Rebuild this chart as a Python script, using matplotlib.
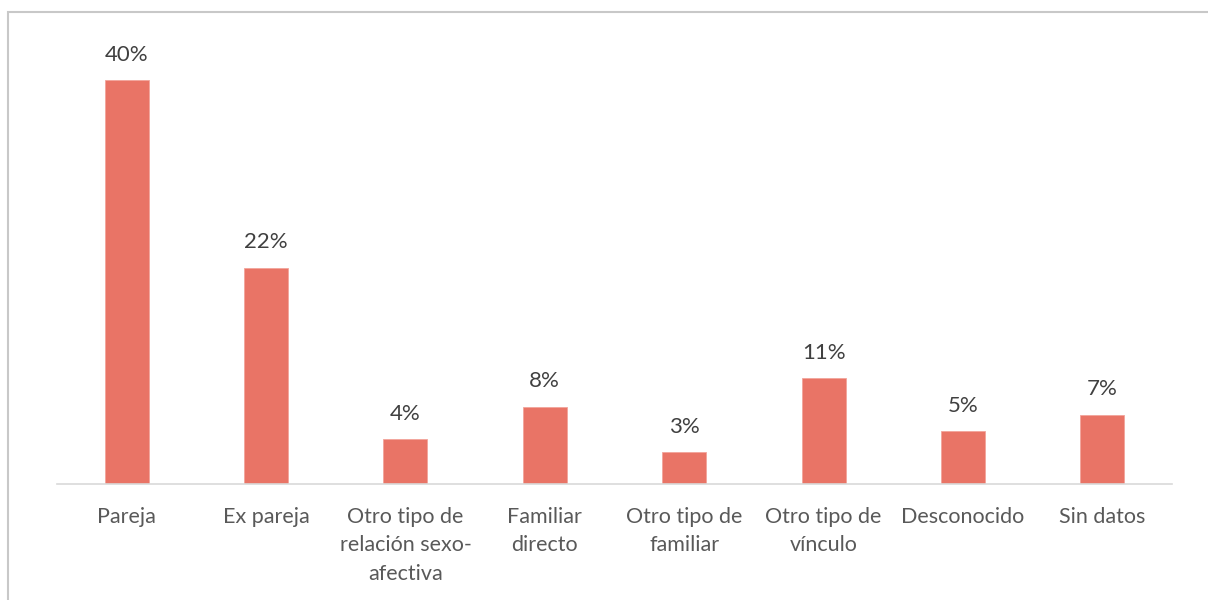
import matplotlib
matplotlib.use("Agg")
import matplotlib.pyplot as plt
from matplotlib.patches import Rectangle

categories = ["Pareja", "Ex pareja", "Otro tipo de\nrelación sexo-\nafectiva",
              "Familiar\ndirecto", "Otro tipo de\nfamiliar", "Otro tipo de\nvínculo",
              "Desconocido", "Sin datos"]
values = [40, 21.4, 4.45, 7.65, 3.15, 10.45, 5.25, 6.85]
value_labels = ["40%", "22%", "4%", "8%", "3%", "11%", "5%", "7%"]

plt.rcParams['font.family'] = ['Lato', 'DejaVu Sans']

W, H = 1208, 600
fig = plt.figure(figsize=(W / 100, H / 100), dpi=100)
fig.patch.set_facecolor('white')

left, right, base, top = 57, 1172, 484, 20
ax = fig.add_axes([left / W, (H - base) / H, (right - left) / W, (base - top) / H])
x = list(range(len(categories)))
ax.bar(x, values, width=0.316, color='#E97466', edgecolor='#F2A49B', linewidth=0.6, zorder=2)
ax.set_xlim(-0.5, len(categories) - 0.5)
ax.set_ylim(0, (base - top) / 10.1)

for xi, v, lab in zip(x, values, value_labels):
    ax.annotate(lab, (xi, v), xytext=(0, 18.3), textcoords='offset points',
                ha='center', va='center', fontsize=16, color='#404040')

ax.set_xticks(x)
ax.set_xticklabels(categories, fontsize=15.5, color='#595959', linespacing=1.52)
ax.tick_params(axis='x', length=0, pad=16.5)
ax.set_yticks([])
for s in ['top', 'right', 'left']:
    ax.spines[s].set_visible(False)
ax.spines['bottom'].set_color('#D9D9D9')
ax.spines['bottom'].set_linewidth(1.2)

fig.patches.append(Rectangle((8 / W, -0.1), 1.2, (H - 12) / H + 0.1,
                             transform=fig.transFigure, fill=False,
                             edgecolor='#C8C8C8', linewidth=1.5))

fig.savefig('out.png', dpi=100, facecolor='white')
